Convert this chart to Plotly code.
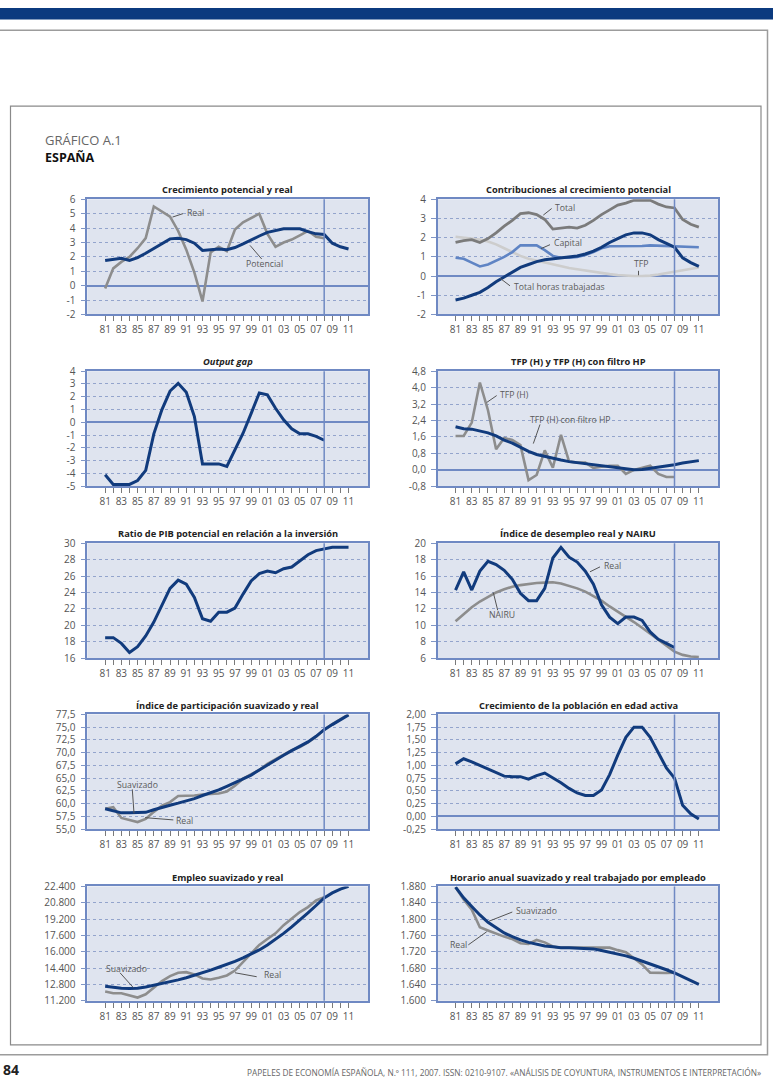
import plotly.graph_objects as go

# ---------------- DATA ----------------
years = [1981, 1982, 1983, 1984, 1985, 1986, 1987, 1988, 1989, 1990, 1991, 1992, 1993, 1994, 1995, 1996,
         1997, 1998, 1999, 2000, 2001, 2002, 2003, 2004, 2005, 2006, 2007, 2008, 2009, 2010, 2011]
years_obs = years[:28]  # 1981-2008

x_tick_text = ['81', '', '83', '', '85', '', '87', '', '89', '', '91', '', '93', '', '95', '', '97', '', '99', '',
               '01', '', '03', '', '05', '', '07', '', '09', '', '11']

# 1. Crecimiento potencial y real
crec_real = [-0.2, 1.2, 1.65, 2.0, 2.6, 3.3, 5.5, 5.15, 4.8, 3.8, 2.5, 0.9, -1.1, 2.3, 2.7, 2.4, 3.9, 4.4,
             4.7, 5.0, 3.6, 2.7, 3.0, 3.2, 3.5, 3.8, 3.4, 3.3]
crec_potencial = [1.75, 1.85, 1.9, 1.75, 1.95, 2.25, 2.6, 2.9, 3.25, 3.3, 3.2, 2.95, 2.45, 2.5, 2.55, 2.5,
                  2.65, 2.9, 3.2, 3.45, 3.7, 3.8, 3.95, 3.95, 3.95, 3.75, 3.6, 3.55, 2.95, 2.7, 2.55]

# 2. Contribuciones al crecimiento potencial
contrib_total = crec_potencial
contrib_capital = [0.95, 0.9, 0.7, 0.5, 0.6, 0.8, 1.0, 1.25, 1.6, 1.6, 1.6, 1.35, 1.05, 0.95, 0.95, 1.0,
                   1.1, 1.25, 1.45, 1.55, 1.55, 1.55, 1.57, 1.57, 1.6, 1.58, 1.57, 1.55, 1.55, 1.53, 1.5]
contrib_tfp = [2.05, 2.0, 1.95, 1.9, 1.8, 1.65, 1.45, 1.25, 1.05, 0.9, 0.8, 0.7, 0.6, 0.5, 0.42, 0.35,
               0.28, 0.22, 0.16, 0.1, 0.05, 0.02, 0.0, 0.0, 0.02, 0.08, 0.15, 0.22, 0.3, 0.38, 0.45]
contrib_horas = [-1.25, -1.15, -1.0, -0.85, -0.6, -0.3, -0.05, 0.2, 0.45, 0.6, 0.75, 0.85, 0.9, 0.95, 1.0,
                 1.05, 1.15, 1.3, 1.5, 1.75, 1.95, 2.15, 2.25, 2.25, 2.15, 1.9, 1.7, 1.5, 0.95, 0.7, 0.5]

# 3. Output gap
output_gap = [-4.1, -4.85, -4.85, -4.85, -4.55, -3.75, -0.9, 1.0, 2.45, 3.05, 2.35, 0.45, -3.25, -3.25,
              -3.25, -3.45, -2.2, -0.85, 0.7, 2.3, 2.15, 1.1, 0.2, -0.5, -0.9, -0.9, -1.1, -1.4]

# 4. TFP (H) y TFP (H) con filtro HP
tfp_h = [1.65, 1.65, 2.3, 4.25, 2.9, 1.0, 1.55, 1.45, 1.2, -0.5, -0.25, 0.95, 0.1, 1.7, 0.4, 0.35, 0.35,
         0.1, 0.15, 0.2, 0.2, -0.2, 0.0, 0.1, 0.2, -0.2, -0.35, -0.35]
tfp_h_hp = [2.1, 2.0, 1.98, 1.9, 1.8, 1.65, 1.45, 1.3, 1.1, 0.9, 0.75, 0.65, 0.55, 0.48, 0.4, 0.35, 0.3,
            0.22, 0.17, 0.13, 0.08, 0.02, 0.0, 0.02, 0.07, 0.12, 0.18, 0.25, 0.33, 0.4, 0.45]

# 5. Ratio de PIB potencial en relacion a la inversion
ratio_pib_inv = [18.5, 18.5, 17.8, 16.7, 17.4, 18.7, 20.4, 22.5, 24.5, 25.5, 25.0, 23.4, 20.8, 20.5, 21.6,
                 21.6, 22.1, 23.8, 25.4, 26.3, 26.6, 26.4, 26.9, 27.1, 27.9, 28.6, 29.1, 29.3, 29.5, 29.5, 29.5]

# 6. Indice de desempleo real y NAIRU
desempleo_real = [14.3, 16.5, 14.3, 16.6, 17.8, 17.4, 16.7, 15.6, 13.9, 13.0, 13.0, 14.5, 18.2, 19.5, 18.3,
                  17.7, 16.6, 15.0, 12.5, 11.0, 10.2, 11.0, 11.0, 10.6, 9.2, 8.3, 7.8, 7.3]
nairu = [10.5, 11.4, 12.2, 12.9, 13.5, 14.0, 14.4, 14.7, 14.9, 15.05, 15.15, 15.2, 15.25, 15.1, 14.8, 14.5,
         14.1, 13.6, 13.0, 12.3, 11.7, 11.0, 10.4, 9.7, 9.0, 8.2, 7.5, 6.8, 6.4, 6.2, 6.15]

# 7. Indice de participacion suavizado y real
partic_suav = [59.0, 58.6, 58.2, 58.2, 58.2, 58.3, 58.8, 59.3, 59.7, 60.1, 60.5, 61.0, 61.6, 62.1, 62.7,
               63.4, 64.1, 64.8, 65.6, 66.6, 67.6, 68.6, 69.5, 70.4, 71.2, 72.1, 73.2, 74.5, 75.5, 76.4, 77.4]
partic_real = [59.0, 59.3, 57.2, 56.8, 56.4, 57.0, 58.4, 59.6, 60.3, 61.5, 61.5, 61.6, 61.8, 61.9, 62.0,
               62.4, 63.5, 64.9, 65.7, 66.6, 67.8, 68.7, 69.6, 70.5, 71.1, 72.0, 73.1, 74.5, 75.6, 76.6, 77.5]

# 8. Crecimiento de la poblacion en edad activa
pob_activa = [1.03, 1.13, 1.07, 1.0, 0.93, 0.85, 0.79, 0.78, 0.78, 0.73, 0.8, 0.85, 0.76, 0.66, 0.55, 0.46,
              0.41, 0.41, 0.52, 0.82, 1.2, 1.55, 1.75, 1.75, 1.55, 1.25, 0.95, 0.75, 0.22, 0.05, -0.05]

# 9. Empleo suavizado y real
empleo_suav = [12620, 12500, 12420, 12400, 12420, 12550, 12710, 12880, 13070, 13250, 13450, 13680, 13940,
               14200, 14480, 14760, 15060, 15400, 15770, 16180, 16670, 17220, 17800, 18430, 19090, 19800,
               20530, 21270, 21760, 22140, 22400]
empleo_real = [12100, 11940, 11940, 11750, 11520, 11840, 12490, 13130, 13610, 13940, 14000, 13780, 13390,
               13290, 13450, 13680, 14160, 14970, 15870, 16670, 17250, 17800, 18600, 19250, 19890, 20370,
               21020, 21340]

# 10. Horario anual suavizado y real trabajado por empleado
horas_suav = [1878, 1852, 1831, 1810, 1792, 1778, 1766, 1757, 1749, 1743, 1738, 1734, 1732, 1730, 1730,
              1729, 1728, 1727, 1723, 1719, 1715, 1710, 1704, 1697, 1691, 1684, 1676, 1668, 1659, 1650, 1640]
horas_real = [1878, 1848, 1823, 1780, 1772, 1764, 1757, 1751, 1741, 1739, 1749, 1743, 1733, 1730, 1730,
              1730, 1731, 1731, 1731, 1730, 1724, 1719, 1704, 1689, 1669, 1668, 1668, 1669]

# Y tick values / labels
yt1_vals = [-2, -1, 0, 1, 2, 3, 4, 5, 6]
yt1_text = ['-2', '-1', '0', '1', '2', '3', '4', '5', '6']
yt2_vals = [-2, -1, 0, 1, 2, 3, 4]
yt2_text = ['-2', '-1', '0', '1', '2', '3', '4']
yt3_vals = [-5, -4, -3, -2, -1, 0, 1, 2, 3, 4]
yt3_text = ['-5', '-4', '-3', '-2', '-1', '0', '1', '2', '3', '4']
yt4_vals = [-0.8, 0.0, 0.8, 1.6, 2.4, 3.2, 4.0, 4.8]
yt4_text = ['-0,8', '0,0', '0,8', '1,6', '2,4', '3,2', '4,0', '4,8']
yt5_vals = [16, 18, 20, 22, 24, 26, 28, 30]
yt5_text = ['16', '18', '20', '22', '24', '26', '28', '30']
yt6_vals = [6, 8, 10, 12, 14, 16, 18, 20]
yt6_text = ['6', '8', '10', '12', '14', '16', '18', '20']
yt7_vals = [55, 57.5, 60, 62.5, 65, 67.5, 70, 72.5, 75, 77.5]
yt7_text = ['55,0', '57,5', '60,0', '62,5', '65,0', '67,5', '70,0', '72,5', '75,0', '77,5']
yt8_vals = [-0.25, 0, 0.25, 0.5, 0.75, 1.0, 1.25, 1.5, 1.75, 2.0]
yt8_text = ['-0,25', '0,00', '0,25', '0,50', '0,75', '1,00', '1,25', '1,50', '1,75', '2,00']
yt9_vals = [11200, 12800, 14400, 16000, 17600, 19200, 20800, 22400]
yt9_text = ['11.200', '12.800', '14.400', '16.000', '17.600', '19.200', '20.800', '22.400']
yt10_vals = [1600, 1640, 1680, 1720, 1760, 1800, 1840, 1880]
yt10_text = ['1.600', '1.640', '1.680', '1.720', '1.760', '1.800', '1.840', '1.880']

# ---------------- STYLE / LAYOUT ----------------
W, H = 773, 1085


def px(x):
    return x / W


def py(y):
    return 1 - y / H


def sid(i):
    return '' if i == 1 else str(i)


BLUE = '#113b7d'
GRAY = '#8d8d8d'
DGRAY = '#7b7b7b'
LGRAY = '#cdcdcd'
CAPITAL = '#5f84c4'
FRAME = '#6f89c3'
GRID = '#93a4cc'
BG = '#dfe4ef'
TXT = '#555555'
FONT = 'Open Sans'

cols = {'L': (87.3, 368.0), 'R': (437.7, 718.3)}
rows = [(194.0, 310.7), (368.3, 485.0), (542.7, 659.3), (716.3, 832.7), (890.7, 1006.7)]

panels = [
    ('<b>Crecimiento potencial y real</b>', 0, 'L', [-2, 6], yt1_vals, yt1_text),
    ('<b>Contribuciones al crecimiento potencial</b>', 0, 'R', [-2, 4], yt2_vals, yt2_text),
    ('<b><i>Output gap</i></b>', 1, 'L', [-5, 4], yt3_vals, yt3_text),
    ('<b>TFP (H) y TFP (H) con filtro HP</b>', 1, 'R', [-0.8, 4.8], yt4_vals, yt4_text),
    ('<b>Ratio de PIB potencial en relación a la inversión</b>', 2, 'L', [16, 30], yt5_vals, yt5_text),
    ('<b>Índice de desempleo real y NAIRU</b>', 2, 'R', [6, 20], yt6_vals, yt6_text),
    ('<b>Índice de participación suavizado y real</b>', 3, 'L', [55, 77.5], yt7_vals, yt7_text),
    ('<b>Crecimiento de la población en edad activa</b>', 3, 'R', [-0.25, 2.0], yt8_vals, yt8_text),
    ('<b>Empleo suavizado y real</b>', 4, 'L', [11200, 22400], yt9_vals, yt9_text),
    ('<b>Horario anual suavizado y real trabajado por empleado</b>', 4, 'R', [1600, 1880], yt10_vals, yt10_text),
]

fig = go.Figure()
layout = dict(
    width=W, height=H, autosize=False,
    margin=dict(l=0, r=0, t=0, b=0, pad=0),
    paper_bgcolor='white', plot_bgcolor=BG,
    showlegend=False,
    font=dict(family=FONT, color=TXT, size=10),
)
annotations = []
shapes = []

for i, (title, r, c, yr, tv, tt) in enumerate(panels, start=1):
    s = sid(i)
    x0, x1 = cols[c]
    top, bot = rows[r]
    layout['xaxis' + s] = dict(
        domain=[px(x0), px(x1)], anchor='y' + s, range=[1978.8, 2013.4],
        tickvals=years, ticktext=x_tick_text, ticks='outside', ticklen=5, tickwidth=1,
        tickcolor='#7a7a7a', showgrid=False, zeroline=False, showline=True, mirror=True,
        linecolor=FRAME, linewidth=1.5, tickfont=dict(size=10, color=TXT, family=FONT),
        ticklabelstandoff=0, fixedrange=True,
    )
    layout['yaxis' + s] = dict(
        domain=[py(bot), py(top)], anchor='x' + s, range=yr,
        tickvals=tv, ticktext=tt, ticks='outside', ticklen=5, tickwidth=1, tickcolor='#8096c6',
        showgrid=True, gridcolor=GRID, griddash='dot',
        gridwidth=1, zeroline=True, zerolinecolor=FRAME, zerolinewidth=1.5,
        showline=True, mirror=True, linecolor=FRAME, linewidth=1.5,
        tickfont=dict(size=10, color=TXT, family=FONT), ticklabelstandoff=3, fixedrange=True,
    )
    annotations.append(dict(
        text=title, xref='paper', yref='paper', x=(px(x0) + px(x1)) / 2, y=py(top - 9.5),
        xanchor='center', yanchor='middle', showarrow=False,
        font=dict(family=FONT, size=9.3, color='#222222'),
    ))
    shapes.append(dict(
        type='line', xref='x' + s, yref='y' + s + ' domain', x0=2008, x1=2008, y0=0, y1=1,
        line=dict(color=FRAME, width=1.5), layer='above',
    ))


def add(i, x, y, color, width):
    fig.add_trace(go.Scatter(x=x, y=y, mode='lines', line=dict(color=color, width=width),
                             xaxis='x' + sid(i), yaxis='y' + sid(i), hoverinfo='skip'))


add(1, years_obs, crec_real, GRAY, 2.6)
add(1, years, crec_potencial, BLUE, 3)

add(2, years, contrib_tfp, LGRAY, 2.6)
add(2, years, contrib_capital, CAPITAL, 2.6)
add(2, years, contrib_total, DGRAY, 2.8)
add(2, years, contrib_horas, BLUE, 3)

add(3, years_obs, output_gap, BLUE, 3)

add(4, years_obs, tfp_h, GRAY, 2.6)
add(4, years, tfp_h_hp, BLUE, 3)

add(5, years, ratio_pib_inv, BLUE, 3)

add(6, years, nairu, GRAY, 2.6)
add(6, years_obs, desempleo_real, BLUE, 3)

add(7, years, partic_real, GRAY, 2.6)
add(7, years, partic_suav, BLUE, 3)

add(8, years, pob_activa, BLUE, 3)

add(9, years_obs, empleo_real, GRAY, 2.6)
add(9, years, empleo_suav, BLUE, 3)

add(10, years_obs, horas_real, GRAY, 2.6)
add(10, years, horas_suav, BLUE, 3)

# ---------------- series labels with leader lines (pixel positions) ----------------
labels = [
    ('Real', 185, 208.3, (183, 208.5), (172.5, 212)),
    ('Potencial', 244.3, 259.3, (261.7, 254.5), (250, 240.7)),
    ('Total', 553.3, 202.7, (551.7, 203.3), (543.3, 210)),
    ('Capital', 552.3, 238.3, (550, 240), (541, 244)),
    ('TFP', 632.3, 260, (638.5, 266.5), (638.5, 271)),
    ('Total horas trabajadas', 512.3, 283.3, (510, 281.7), (500, 274)),
    ('TFP (H)', 497.7, 392.7, (496.7, 393), (486.7, 400)),
    ('TFP (H) con filtro HP', 527.7, 417.7, (540, 422.3), (533.3, 441.7)),
    ('Real', 602.3, 565.7, (600, 566.7), (590, 571.7)),
    ('NAIRU', 486.7, 616, (497.7, 610.7), (493.3, 592.7)),
    ('Suavizado', 115, 787.7, (132.3, 792.3), (134, 816.7)),
    ('Real', 174.3, 824, (173.3, 823.3), (145, 821)),
    ('Suavizado', 104.3, 974, (120, 978.3), (133.3, 993.3)),
    ('Real', 261.7, 981, (256.7, 982.3), (235, 978.3)),
    ('Suavizado', 514.3, 915.7, (512.3, 916.7), (489, 926)),
    ('Real', 448.3, 950, (468.3, 950), (486.7, 936.7)),
]
for text, tx, ty, p0, p1 in labels:
    annotations.append(dict(text=text, xref='paper', yref='paper', x=px(tx), y=py(ty),
                            xanchor='left', yanchor='middle', showarrow=False,
                            font=dict(family=FONT, size=8.7, color='#5a5a5a')))
    shapes.append(dict(type='line', xref='paper', yref='paper', x0=px(p0[0]), y0=py(p0[1]),
                       x1=px(p1[0]), y1=py(p1[1]), line=dict(color='#555555', width=1)))

# ---------------- page decoration ----------------
shapes.append(dict(type='rect', xref='paper', yref='paper', x0=0, x1=1, y0=py(11.7), y1=1,
                   fillcolor='#0b3a7f', line=dict(width=0), layer='below'))
shapes.append(dict(type='rect', xref='paper', yref='paper', x0=px(-2), x1=px(767.5), y0=py(1061.5),
                   y1=py(22.5), line=dict(color='#9c9c9c', width=1.5), layer='below'))
shapes.append(dict(type='rect', xref='paper', yref='paper', x0=px(10.5), x1=px(761), y0=py(1051.5),
                   y1=py(99.5), line=dict(color='#8a8a8a', width=1.2), layer='below'))

annotations.append(dict(text='GRÁFICO A.1', xref='paper', yref='paper', x=px(43), y=py(134),
                        xanchor='left', yanchor='middle', showarrow=False,
                        font=dict(family=FONT, size=13, color='#666666')))
annotations.append(dict(text='<b>ESPAÑA</b>', xref='paper', yref='paper', x=px(43), y=py(152),
                        xanchor='left', yanchor='middle', showarrow=False,
                        font=dict(family=FONT, size=12.5, color='#111111')))
annotations.append(dict(
    text='PAPELES DE ECONOMÍA ESPAÑOLA, N.º 111, 2007. ISSN: 0210-9107. «ANÁLISIS DE COYUNTURA, INSTRUMENTOS E INTERPRETACIÓN»',
    xref='paper', yref='paper', x=px(245), y=py(1079), xanchor='left', yanchor='middle', showarrow=False,
    font=dict(family=FONT, size=8.3, color='#666666')))
annotations.append(dict(text='<b>84</b>', xref='paper', yref='paper', x=px(1), y=py(1076),
                        xanchor='left', yanchor='middle', showarrow=False,
                        font=dict(family=FONT, size=14, color='#222222')))

layout['annotations'] = annotations
layout['shapes'] = shapes
fig.update_layout(**layout)

fig.write_html('out.html')
